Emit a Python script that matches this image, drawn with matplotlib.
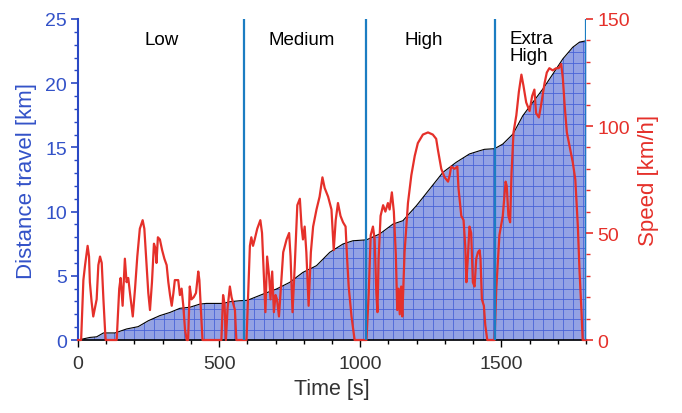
import numpy as np
import matplotlib
matplotlib.use("Agg")
import matplotlib.pyplot as plt
from matplotlib.ticker import MultipleLocator

plt.rcParams['font.family'] = ['Liberation Sans', 'DejaVu Sans']

# speed trace (time s, speed km/h)
time_s = [0, 11, 19, 25, 34, 39, 42, 48, 54, 60, 66, 72, 78, 84, 90, 96, 98, 133,
          137, 146, 151, 158, 166, 172, 178, 184, 194, 202, 210, 219, 229, 235, 243,
          249, 255, 262, 269, 274, 278, 283, 290, 298, 306, 314, 320, 326, 332, 338,
          343, 355, 361, 367, 373, 379, 385, 390, 396, 402, 410, 418, 426, 430, 435,
          441, 508, 514, 519, 524, 530, 538, 544, 550, 556, 561, 597,
          604, 609, 614, 620, 626, 635, 646, 652, 658, 664, 670, 677, 682, 688, 694,
          700, 705, 712, 717, 727, 739, 748, 753, 760, 768, 777, 786, 792, 797, 803,
          809, 817, 825, 833, 845, 856, 866, 874, 886, 898, 906, 913, 921, 930, 939,
          948, 953, 959, 969, 980, 1022,
          1030, 1037, 1045, 1051, 1057, 1061, 1065, 1072, 1081, 1089, 1098, 1104, 1112,
          1119, 1126, 1131, 1136, 1140, 1145, 1149, 1157, 1169, 1181, 1193, 1204, 1222,
          1240, 1257, 1269, 1275, 1287, 1299, 1311, 1317, 1322, 1334, 1344, 1348, 1358,
          1366, 1372, 1376, 1381, 1387, 1393, 1399, 1405, 1411, 1417, 1423, 1426, 1431,
          1438, 1443, 1450, 1476,
          1482, 1493, 1505, 1515, 1519, 1525, 1531, 1536, 1543, 1553, 1562, 1571, 1578,
          1588, 1600, 1609, 1617, 1623, 1633, 1641, 1653, 1661, 1670, 1682, 1694, 1703,
          1712, 1718, 1724, 1732, 1741, 1753, 1762, 1771, 1777, 1784, 1788, 1800]
speed_kmh = [0, 0, 28, 35, 44, 39, 27, 18, 11, 15, 19, 35, 39, 36, 19, 4, 0, 0,
             0, 24, 29, 16, 38, 27, 29, 22, 11, 24, 39, 52, 56, 52, 35,
             22, 14, 27, 45, 43, 36, 48, 47, 42, 38, 35, 27, 21, 16, 22,
             28, 28, 21, 24, 16, 5, 0, 0, 25, 19, 20, 22, 32, 28, 15,
             0, 0, 21, 17, 0, 15, 25, 20, 17, 14, 0, 0,
             25, 44, 48, 44, 47, 52, 56, 50, 32, 13, 39, 30, 19, 32, 13,
             21, 19, 11, 21, 41, 47, 50, 39, 13, 35, 63, 66, 53, 47, 53,
             41, 16, 41, 53, 61, 67, 76, 71, 67, 61, 42, 56, 64, 58, 55,
             53, 39, 25, 11, 0, 0,
             22, 49, 53, 47, 22, 13, 38, 58, 63, 60, 64, 61, 69,
             60, 40, 14, 24, 12, 25, 11, 41, 64, 77, 86, 92, 96,
             97, 96, 94, 89, 80, 76, 74, 77, 81, 80, 81, 71, 58,
             56, 44, 27, 38, 53, 50, 27, 25, 38, 41, 42, 38, 19,
             16, 7, 0, 0,
             24, 49, 58, 74, 72, 58, 55, 78, 97, 105, 116, 124, 119,
             111, 107, 114, 117, 106, 104, 110, 120, 125, 127, 126, 127, 127,
             129, 122, 110, 97, 91, 83, 75, 53, 32, 13, 0, 0]

# cumulative distance (time s, km)
dist_t = [0, 42, 66, 90, 131, 172, 213, 249, 290, 326, 361, 396, 432, 455, 514, 538,
          573, 600, 656, 703, 750, 797, 845, 892, 939, 974, 1022, 1069, 1116, 1151,
          1199, 1246, 1293, 1340, 1387, 1423, 1440, 1476, 1505, 1541, 1576, 1611,
          1647, 1682, 1718, 1753, 1777, 1800]
dist_km = [0, 0.2, 0.25, 0.55, 0.55, 0.86, 1.04, 1.5, 1.9, 2.15, 2.47, 2.55, 2.8, 2.85,
           2.85, 2.98, 3.06, 3.09, 3.58, 3.97, 4.49, 5.27, 5.79, 6.83, 7.48, 7.73,
           7.8, 8.26, 9.03, 9.29, 10.46, 11.76, 13.06, 13.84, 14.49, 14.74, 14.85,
           14.9, 15.26, 16.04, 17.47, 18.5, 19.55, 20.7, 21.9, 22.8, 23.2, 23.3]

phase_ends = [589, 1022, 1477, 1800]
phase_names = ["Low", "Medium", "High", "Extra\nHigh"]
phase_label_t = [297, 793, 1225, 1529]

blue = '#2a48c4'
blue_txt = '#3352c8'
red = '#e5302a'
vline_c = '#1b7dc2'

fig = plt.figure(figsize=(6.82, 4.14), dpi=100)
ax = fig.add_axes([0.1144, 0.1763, 0.7449, 0.7754])
ax2 = ax.twinx()

# distance area with grid pattern
poly = ax.fill_between(dist_t, dist_km, 0, color='#93a2e4', lw=0, zorder=1)
clip = poly.get_paths()[0]
for gx in np.arange(20, 1800, 35.4):
    ln = ax.axvline(gx, color='#4863d8', lw=0.6, zorder=2)
    ln.set_clip_path(clip, ax.transData)
for gy in np.arange(0.8, 25, 0.8):
    ln = ax.axhline(gy, color='#4863d8', lw=0.6, zorder=2)
    ln.set_clip_path(clip, ax.transData)
ax.plot(dist_t, dist_km, color='black', lw=0.8, zorder=3)

ax2.plot(time_s, speed_kmh, color=red, lw=1.6, zorder=3, clip_on=False)
for t in phase_ends:
    ax2.axvline(t, color=vline_c, lw=1.6, zorder=4)

for name, t in zip(phase_names, phase_label_t):
    if "\n" in name:
        ax2.text(t, 145, name, fontsize=13.5, ha='left', va='top', linespacing=1.05)
    else:
        ax2.text(t, 140.5, name, fontsize=13.5, ha='center', va='center')

ax.set_xlim(0, 1800)
ax.set_ylim(0, 25)
ax2.set_ylim(0, 150)

ax.xaxis.set_major_locator(MultipleLocator(500))
ax.xaxis.set_minor_locator(MultipleLocator(100))
ax.yaxis.set_major_locator(MultipleLocator(5))
ax.yaxis.set_minor_locator(MultipleLocator(1))
ax2.yaxis.set_major_locator(MultipleLocator(50))
ax2.yaxis.set_minor_locator(MultipleLocator(10))

for a in (ax, ax2):
    a.spines['top'].set_visible(False)
ax2.spines['right'].set_visible(False)
ax2.spines['left'].set_visible(False)
ax2.spines['bottom'].set_visible(False)
ax.spines['right'].set_visible(False)
ax.spines['left'].set_color(blue)
ax.spines['left'].set_linewidth(1.5)
ax.spines['bottom'].set_color('black')
ax.spines['bottom'].set_linewidth(1.2)

ax.tick_params(axis='x', which='major', length=5, width=1, colors='black',
               labelsize=14, labelcolor='#333333', pad=6)
ax.tick_params(axis='x', which='minor', length=3, width=1, colors='black')
ax.tick_params(axis='y', which='major', length=5, width=1.2, colors=blue,
               labelsize=14, labelcolor=blue_txt, pad=3)
ax.tick_params(axis='y', which='minor', length=3, width=1, colors=blue)
ax2.tick_params(axis='y', which='major', length=5, width=1.2, colors=red,
                labelsize=14, labelcolor=red, pad=3)
ax2.tick_params(axis='y', which='minor', length=3, width=1, colors=red)

ax.set_xlabel("Time [s]", fontsize=15.5, color='#333333', labelpad=4)
ax.set_ylabel("Distance travel [km]", fontsize=16, color=blue_txt, labelpad=6)
ax2.set_ylabel("Speed [km/h]", fontsize=16, color=red, labelpad=6)

fig.savefig("out.png", dpi=100)
